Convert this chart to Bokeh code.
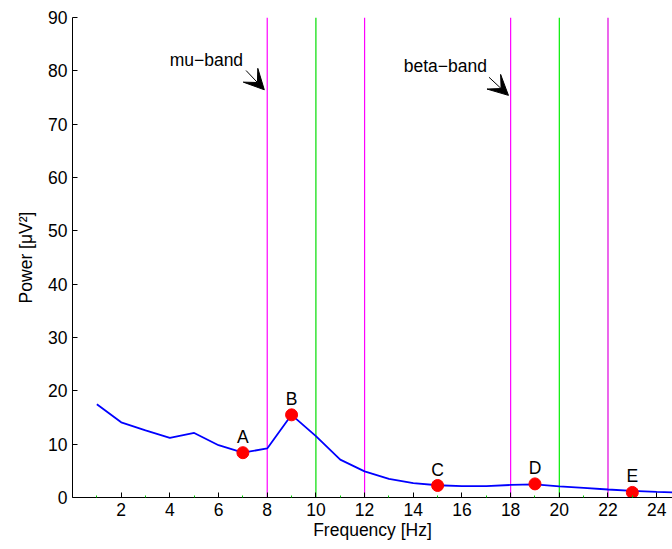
from bokeh.plotting import figure
from bokeh.models import FixedTicker, Arrow, VeeHead, Label, LabelSet, ColumnDataSource, Range1d
from bokeh.core.properties import value
from bokeh.embed import file_html
from bokeh.resources import INLINE

# ---- data ----
freq = [1, 2, 3, 4, 5, 6, 7, 8, 9, 10, 11, 12, 13, 14, 15, 16, 17, 18, 19, 20, 21, 22, 23, 24, 25]
power = [17.5, 14.1, 12.6, 11.2, 12.1, 9.8, 8.4, 9.2, 15.5, 11.5, 7.1, 4.9, 3.5, 2.7, 2.3,
         2.15, 2.15, 2.35, 2.45, 2.1, 1.8, 1.5, 1.25, 1.05, 0.9]
marker_freq = [7, 9, 15, 19, 23]
marker_power = [8.4, 15.5, 2.25, 2.55, 0.95]
marker_labels = ["A", "B", "C", "D", "E"]
band_lines = [8, 10, 12, 18, 20, 22]
x_ticks = [2, 4, 6, 8, 10, 12, 14, 16, 18, 20, 22, 24]
x_minor = [1, 3, 5, 7, 9, 11, 13, 15, 17, 19, 21, 23, 25]
y_ticks = [0, 10, 20, 30, 40, 50, 60, 70, 80, 90]
band_names = ["mu\u2212band", "beta\u2212band"]

# styles
band_colors = ["#ff00ff", "#00dd00", "#ff00ff", "#ff00ff", "#00ee00", "#e000e0"]
FONT = "Liberation Sans"
FS = "17.5px"

p = figure(width=672, height=549, output_backend="svg", toolbar_location=None,
           x_range=Range1d(0, 24.65), y_range=Range1d(0, 90),
           min_border_left=72, min_border_right=0, min_border_top=17, min_border_bottom=52)
p.outline_line_color = None
p.xgrid.visible = False
p.ygrid.visible = False
p.background_fill_color = "white"
p.border_fill_color = "white"

# band lines
p.segment(x0=band_lines, y0=[0] * len(band_lines), x1=band_lines, y1=[90] * len(band_lines),
          line_color=band_colors, line_width=1.2)

# spectrum
p.line(freq, power, line_color="#0000ff", line_width=1.8)

# markers
src = ColumnDataSource(dict(x=marker_freq, y=marker_power, t=marker_labels))
p.scatter("x", "y", source=src, size=12, fill_color="#ff0000", line_color="#ff0000")
p.add_layout(LabelSet(x="x", y="y", text="t", source=src, y_offset=10,
                      text_align="center", text_baseline="alphabetic",
                      text_font=value(FONT), text_font_size=value(FS), text_color="black"))

# band annotations
p.add_layout(Label(x=5.5, y=82.1, text=band_names[0], text_align="center",
                   text_baseline="alphabetic", text_font=FONT, text_font_size=FS,
                   text_color="black"))
p.add_layout(Label(x=15.32, y=80.85, text=band_names[1], text_align="center",
                   text_baseline="alphabetic", text_font=FONT, text_font_size=FS,
                   text_color="black"))
p.add_layout(Arrow(end=VeeHead(size=20, fill_color="black", line_color="black"),
                   x_start=7.13, y_start=80.06, x_end=7.88, y_end=76.45,
                   line_color="black", line_width=1))
p.add_layout(Arrow(end=VeeHead(size=20, fill_color="black", line_color="black"),
                   x_start=17.11, y_start=78.8, x_end=17.91, y_end=75.4,
                   line_color="black", line_width=1))

# axes
xa = p.xaxis[0]
xa.ticker = FixedTicker(ticks=x_ticks, minor_ticks=x_minor)
xa.axis_label = "Frequency [Hz]"
ya = p.yaxis[0]
ya.ticker = FixedTicker(ticks=y_ticks)
ya.axis_label = "Power [\u03bcV\u00b2]"
for ax in (xa, ya):
    ax.axis_line_color = "black"
    ax.major_tick_line_color = "black"
    ax.major_tick_in = 5
    ax.major_tick_out = 0
    ax.major_label_text_font = FONT
    ax.major_label_text_font_size = FS
    ax.major_label_text_color = "black"
    ax.axis_label_text_font = FONT
    ax.axis_label_text_font_size = FS
    ax.axis_label_text_font_style = "normal"
    ax.axis_label_text_color = "black"
xa.minor_tick_line_color = "#00cc00"
xa.minor_tick_in = 2
xa.minor_tick_out = 0
ya.minor_tick_line_color = None
xa.major_label_standoff = 5
xa.axis_label_standoff = 1
ya.major_label_standoff = 5
ya.axis_label_standoff = 9

open("out.html", "w").write(file_html(p, INLINE))
